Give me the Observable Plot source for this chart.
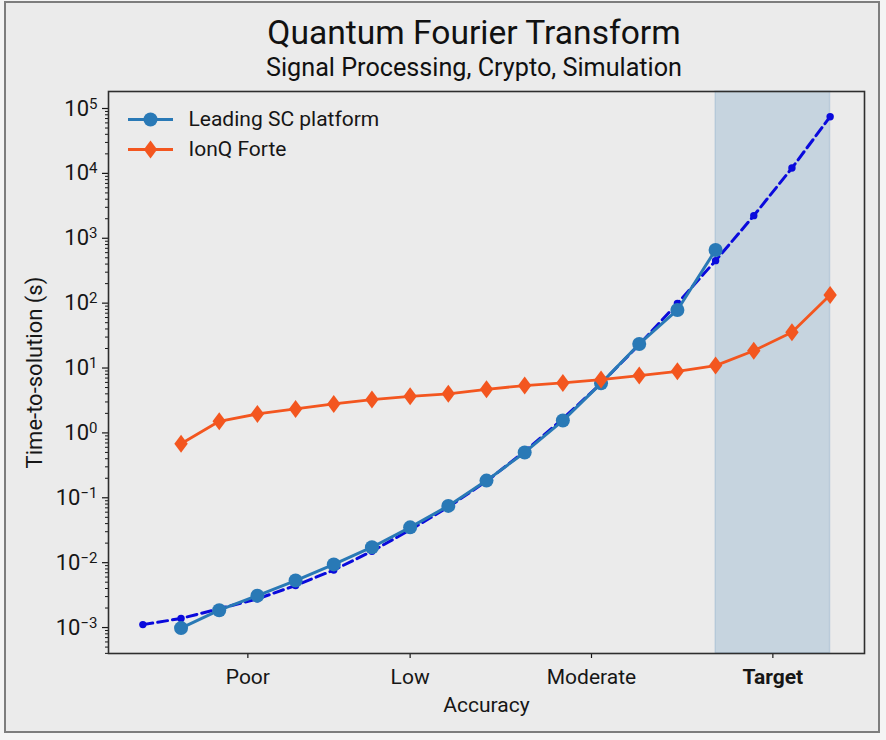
<!DOCTYPE html>
<html>
<head>
<meta charset="utf-8">
<script src="https://cdn.jsdelivr.net/npm/d3@7"></script>
<script src="https://cdn.jsdelivr.net/npm/@observablehq/plot@0.6"></script>
<style>
  html, body { margin: 0; padding: 0; overflow: hidden; }
  body { width: 886px; height: 740px; background: #f4f4f4; font-family: Roboto, "Noto Sans", sans-serif; position: relative; }
  #border { position: absolute; left: 4px; top: 1px; width: 872px; height: 728px; border: 2px solid #7d7d7d; background: #ebebeb; }
  .ttl { position: absolute; left: 0; width: 948px; text-align: center; line-height: 1; color: #111; white-space: nowrap; }
  #title { top: 16px; font-size: 33.6px; }
  #subtitle { top: 55px; font-size: 25.2px; }
  #chart { position: absolute; left: 0; top: 80px; }
</style>
</head>
<body>
<div id="border"></div>
<div class="ttl" id="title">Quantum Fourier Transform</div>
<div class="ttl" id="subtitle">Signal Processing, Crypto, Simulation</div>
<div id="chart"></div>
<script>
// ---- data ----
const seriesNames = ["Leading SC platform", "IonQ Forte"];

const scSteps = [1, 2, 3, 4, 5, 6, 7, 8, 9, 10, 11, 12, 13, 14, 15];
const scTime  = [0.98e-3, 1.85e-3, 3.1e-3, 5.3e-3, 9.4e-3, 1.73e-2, 3.5e-2, 7.5e-2, 0.184, 0.50, 1.55, 5.8, 23.5, 78.5, 661];

const ionqSteps = [1, 2, 3, 4, 5, 6, 7, 8, 9, 10, 11, 12, 13, 14, 15, 16, 17, 18];
const ionqTime  = [0.68, 1.51, 1.96, 2.34, 2.8, 3.26, 3.66, 4.0, 4.7, 5.36, 5.89, 6.63, 7.64, 8.89, 10.9, 18.5, 35.5, 134];

const trendSteps = [0, 1, 2, 3, 4, 5, 6, 7, 8, 9, 10, 11, 12, 13, 14, 15, 16, 17, 18];
const trendTime  = [1.11e-3, 1.38e-3, 1.95e-3, 2.77e-3, 4.45e-3, 7.7e-3, 1.5e-2, 3.2e-2, 7.2e-2, 0.18, 0.52, 1.65, 5.8, 23, 99, 452, 2230, 12100, 74800];

const targetSpan = [15, 18];

const xTicks  = [2.75, 7, 11.75, 16.5];
const xLabels = ["Poor", "Low", "Moderate", "Target"];
const yMajor  = [1e-3, 1e-2, 1e-1, 1e0, 1e1, 1e2, 1e3, 1e4, 1e5];

// ---- derived tables ----
const sc    = scSteps.map((s, i) => ({step: s, t: scTime[i]}));
const ionq  = ionqSteps.map((s, i) => ({step: s, t: ionqTime[i]}));
const trend = trendSteps.map((s, i) => ({step: s, t: trendTime[i]}));

const yDomain = [Math.pow(10, -3.40), Math.pow(10, 5.262)];
const yMinor = [];
for (let e = -4; e <= 5; e++) for (let k = 2; k <= 9; k++) {
  const v = k * Math.pow(10, e);
  if (v >= yDomain[0] && v <= yDomain[1]) yMinor.push(v);
}

const BLUE = "#2979b6", ORANGE = "#f3561f", DASH = "#0a0adc";
const diamond = {
  draw(ctx) { const w = 6.7, h = 9; ctx.moveTo(0, -h); ctx.lineTo(w, 0); ctx.lineTo(0, h); ctx.lineTo(-w, 0); ctx.closePath(); }
};
const legendLine = {
  draw(ctx) { ctx.moveTo(-22.5, 0); ctx.lineTo(22.5, 0); }
};

const plot = Plot.plot({
  width: 886,
  height: 660,
  marginLeft: 108,
  marginRight: 22,
  marginTop: 11,
  marginBottom: 87,
  style: {background: "transparent", fontFamily: "Roboto, sans-serif", fontSize: "21px", color: "#161616"},
  x: {domain: [-0.9, 18.9]},
  y: {type: "log", domain: yDomain},
  marks: [
    Plot.rect([{x1: targetSpan[0], x2: targetSpan[1]}], {x1: "x1", x2: "x2", fill: "steelblue", fillOpacity: 0.22, stroke: "steelblue", strokeOpacity: 0.18, strokeWidth: 1.5}),
    // dashed trend
    Plot.line(trend, {x: "step", y: "t", stroke: DASH, strokeWidth: 3, strokeDasharray: "10,5"}),
    Plot.dot(trend, {x: "step", y: "t", r: 3.7, fill: DASH, stroke: "none"}),
    // SC platform
    Plot.line(sc, {x: "step", y: "t", stroke: BLUE, strokeWidth: 3}),
    Plot.dot(sc, {x: "step", y: "t", r: 7, fill: BLUE, stroke: "none"}),
    // IonQ
    Plot.line(ionq, {x: "step", y: "t", stroke: ORANGE, strokeWidth: 2.8}),
    Plot.dot(ionq, {x: "step", y: "t", symbol: diamond, fill: ORANGE, stroke: "none"}),
    // axes
    Plot.axisY({ticks: yMinor, tickSize: 3, tickFormat: () => "", label: null, strokeWidth: 1}),
    Plot.axisY({ticks: yMajor, tickSize: 6, tickPadding: 5, fontSize: 22, tickFormat: d => String(Math.round(Math.log10(d))), label: null, strokeWidth: 1.2}),
    Plot.axisX({ticks: xTicks.slice(0, 3), tickSize: 5, tickPadding: 11, fontSize: 21, tickFormat: d => xLabels[xTicks.indexOf(d)], label: null, strokeWidth: 1.2}),
    Plot.axisX({ticks: xTicks.slice(3), tickSize: 5, tickPadding: 11, fontSize: 21, fontWeight: "bold", tickFormat: d => xLabels[xTicks.indexOf(d)], label: null, strokeWidth: 1.2}),
    Plot.text(["Time-to-solution (s)"], {frameAnchor: "left", dx: -74, rotate: -90, textAnchor: "middle", lineAnchor: "middle", fontSize: 22, fill: "#161616"}),
    Plot.text(["Accuracy"], {frameAnchor: "bottom", dy: 52, lineAnchor: "middle", fontSize: 21, fill: "#161616"}),
    // legend
    Plot.dot([0], {frameAnchor: "top-left", dx: 42, dy: 28, symbol: legendLine, stroke: BLUE, strokeWidth: 3, fill: "none"}),
    Plot.dot([0], {frameAnchor: "top-left", dx: 42, dy: 28, r: 7, fill: BLUE, stroke: "none"}),
    Plot.dot([0], {frameAnchor: "top-left", dx: 42, dy: 58, symbol: legendLine, stroke: ORANGE, strokeWidth: 2.8, fill: "none"}),
    Plot.dot([0], {frameAnchor: "top-left", dx: 42, dy: 58, symbol: diamond, fill: ORANGE, stroke: "none"}),
    Plot.text([seriesNames[0]], {frameAnchor: "top-left", dx: 80, dy: 28, textAnchor: "start", lineAnchor: "middle", fontSize: 21, fill: "#161616"}),
    Plot.text([seriesNames[1]], {frameAnchor: "top-left", dx: 80, dy: 58, textAnchor: "start", lineAnchor: "middle", fontSize: 21, fill: "#161616"}),
    Plot.frame({stroke: "#2e2e2e", strokeWidth: 1.6})
  ]
});

document.getElementById("chart").appendChild(plot);

// render y tick labels as 10 with superscript exponent
d3.select(plot).selectAll('g[aria-label="y-axis tick label"] text').each(function () {
  const el = d3.select(this);
  const e = el.text();
  if (!e) return;
  el.text("");
  el.append("tspan").attr("font-size", "22px").text("10");
  el.append("tspan").attr("dy", "-7").attr("font-size", "15px").text(e.replace("-", "\u2212"));
});
</script>
</body>
</html>
